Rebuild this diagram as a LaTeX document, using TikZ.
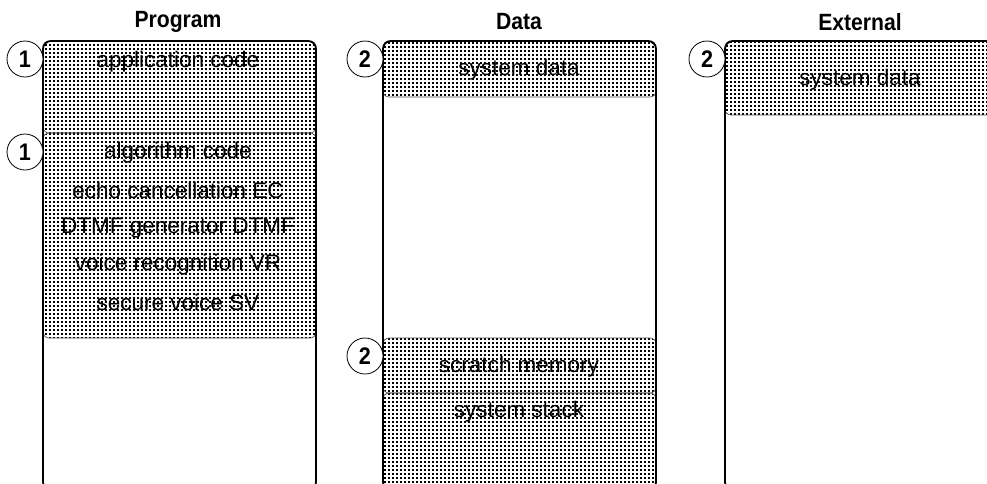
\documentclass[tikz,border=0pt]{standalone}
\usepackage{fontspec}
\setmainfont{Liberation Sans}
\newfontfamily\titlefont[FakeStretch=0.9]{Liberation Sans Bold}
\usetikzlibrary{patterns}
\pgfdeclarepatternformonly{memdots}{\pgfpointorigin}{\pgfpoint{3.8pt}{3.8pt}}{\pgfpoint{3.8pt}{3.8pt}}{%
  \pgfpathrectangle{\pgfpointorigin}{\pgfpoint{2pt}{2pt}}\pgfusepath{fill}}
\tikzset{
  region/.style={pattern=memdots, pattern color=black, draw=black!70, line width=0.6pt, rounded corners=6pt},
  outerbox/.style={draw=black, line width=1.8pt, rounded corners=8pt},
  numcirc/.style={circle, draw=black, line width=0.8pt, fill=white, minimum size=36pt, inner sep=0pt, font=\titlefont\fontsize{24}{27}\selectfont},
  title/.style={font=\titlefont\fontsize{23.5}{27}\selectfont},
  lbl/.style={font=\fontsize{22.5}{26}\selectfont, inner sep=0pt}
}
\begin{document}
\begin{tikzpicture}[x=1pt,y=-1pt]
\useasboundingbox (0,0) rectangle (987,483);
\clip (0,0) rectangle (987,483);
% titles
\node[title] (tprog) at (178,22) {Program};
\node[title] (tdata) at (519,22) {Data};
\node[title] (text) at (860,22) {External};
% Program regions
\draw[region] (43,41) rectangle (316,133);
\draw[region] (43,133) rectangle (316,338);
\draw[outerbox] (43,41) rectangle (316,490);
\node[lbl] (appcode) at (178,62) {application code};
\node[lbl] (alg1) at (178,153) {algorithm code};
\node[lbl] (alg2) at (178,190) {echo cancellation EC};
\node[lbl] (alg3) at (178,228) {DTMF generator DTMF};
\node[lbl] (alg4) at (178,265) {voice recognition VR};
\node[lbl] (alg5) at (178,302) {secure voice SV};
\node[numcirc] (c1a) at (25,59) {1};
\node[numcirc] (c1b) at (25,152) {1};
% Data regions
\draw[region] (383,41) rectangle (656,97);
\draw[region] (383,338) rectangle (656,393);
\draw[region] (383,393) rectangle (656,500);
\draw[outerbox] (383,41) rectangle (656,490);
\node[lbl] (dsys) at (519,70) {system data};
\node[lbl] (dscr) at (519,367) {scratch memory};
\node[lbl] (dstk) at (519,412) {system stack};
\node[numcirc] (c2a) at (365,59) {2};
\node[numcirc] (c2b) at (365,356) {2};
% External regions
\draw[region] (725,41) rectangle (998,115);
\draw[outerbox] (725,41) rectangle (998,490);
\node[lbl] (esys) at (860,80) {system data};
\node[numcirc] (c2c) at (707,59) {2};
\end{tikzpicture}
\end{document}
